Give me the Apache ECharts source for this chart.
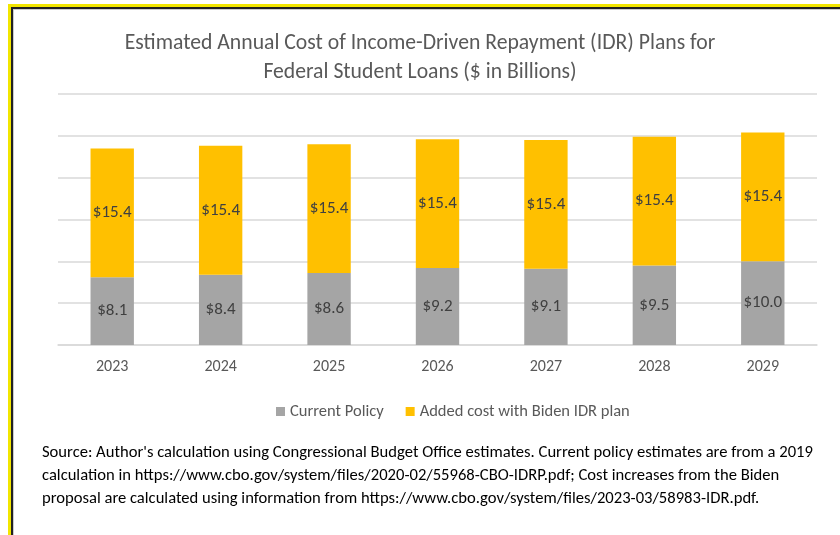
<!DOCTYPE html>
<html><head><meta charset="utf-8">
<script src="https://cdn.jsdelivr.net/npm/echarts@6/dist/echarts.min.js"></script>
<style>html,body{margin:0;padding:0;background:#fff}#c{width:840px;height:535px}</style>
</head><body><div id="c"></div>
<script>
const years = ['2023','2024','2025','2026','2027','2028','2029'];
const currentPolicy = [8.1, 8.4, 8.6, 9.2, 9.1, 9.5, 10.0];
const addedCost = [15.4, 15.4, 15.4, 15.4, 15.4, 15.4, 15.4];
const seriesNames = ['Current Policy', 'Added cost with Biden IDR plan'];
const titleLines = ['Estimated Annual Cost of Income-Driven Repayment (IDR) Plans for', 'Federal Student Loans ($ in Billions)'];
const sourceLines = [
  "Source: Author's calculation using Congressional Budget Office estimates. Current policy estimates are from a 2019",
  "calculation in https://www.cbo.gov/system/files/2020-02/55968-CBO-IDRP.pdf; Cost increases from the Biden",
  "proposal are calculated using information from https://www.cbo.gov/system/files/2023-03/58983-IDR.pdf."
];
const FONT = "Carlito, Calibri, 'Liberation Sans Narrow', 'Noto Sans', sans-serif";
const chart = echarts.init(document.getElementById('c'), null, {renderer:'canvas'});
const lbl = {show:true, position:'inside', color:'#404040', fontSize:17, fontFamily:FONT, formatter: p => '$' + p.value.toFixed(1)};
chart.setOption({
  animation:false,
  title:{text:titleLines.join('\n'), left:'center', top:24, padding:[5,0,5,10], textStyle:{fontFamily:FONT, fontSize:21.7, fontWeight:'normal', color:'#595959', lineHeight:29}},
  grid:{left:58, right:23, top:94, bottom:190},
  legend:{bottom:110, left:271, itemWidth:9, itemHeight:9, itemGap:22, icon:'rect', textStyle:{fontFamily:FONT, fontSize:16.5, color:'#595959'}, data:seriesNames},
  xAxis:{type:'category', data:years, axisLine:{lineStyle:{color:'#D9D9D9', width:1.5}}, axisTick:{show:false}, axisLabel:{fontFamily:FONT, fontSize:16, color:'#595959', margin:14}},
  yAxis:{type:'value', min:0, max:30, interval:5, axisLabel:{show:false}, axisLine:{show:false}, axisTick:{show:false}, splitLine:{lineStyle:{color:'#D9D9D9', width:1.5}}},
  series:[
    {name:seriesNames[0], type:'bar', stack:'t', data:currentPolicy, barWidth:'40%', itemStyle:{color:'#A5A5A5'}, label:lbl},
    {name:seriesNames[1], type:'bar', stack:'t', data:addedCost, barWidth:'40%', itemStyle:{color:'#FFC000'}, label:lbl}
  ],
  graphic:[
    {type:'rect', shape:{x:8, y:4, width:840, height:3}, style:{fill:'#F2E600'}},
    {type:'rect', shape:{x:8, y:4, width:3, height:540}, style:{fill:'#F2E600'}},
    {type:'rect', shape:{x:11, y:7, width:840, height:2}, style:{fill:'#222'}},
    {type:'rect', shape:{x:11, y:7, width:2, height:540}, style:{fill:'#222'}},
    {type:'rect', shape:{x:13, y:9, width:840, height:1}, style:{fill:'#ccc'}},
    {type:'rect', shape:{x:13, y:9, width:1, height:540}, style:{fill:'#ccc'}},
    ...sourceLines.map((t,i)=>({type:'text', left:42, top:444 + i*23, style:{text:t, fontFamily:FONT, fontSize:16.6, fill:'#000'}}))
  ]
});
</script></body></html>
